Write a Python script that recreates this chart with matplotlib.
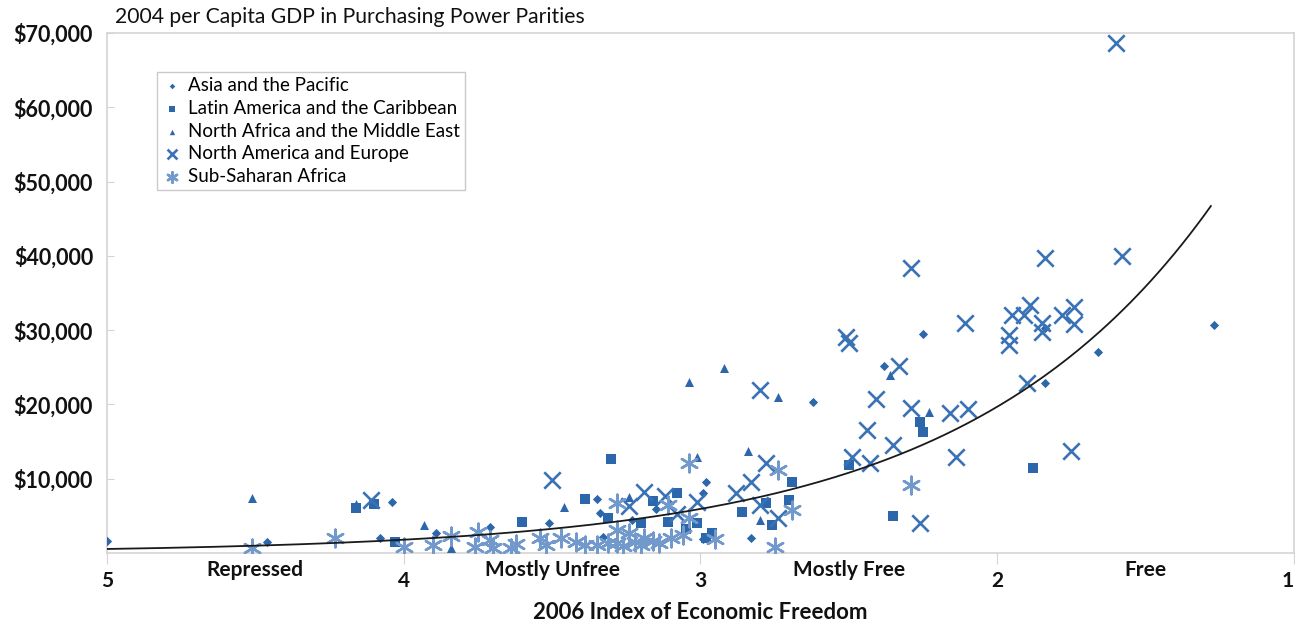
import numpy as np
import matplotlib
matplotlib.use("Agg")
import matplotlib.pyplot as plt
from matplotlib.ticker import FuncFormatter

# 2006 Index of Economic Freedom score (1 = free, 5 = repressed) and
# 2004 per-capita GDP (PPP, US$) by region
asia_idx = [5.00, 4.46, 4.08, 4.04, 3.89, 3.71, 3.51, 3.35, 3.34, 3.33, 3.23, 3.15,
            2.99, 2.98, 2.99, 2.83, 2.62, 2.38, 2.25, 1.84, 1.84, 1.66, 1.27]
asia_gdp = [1600, 1500, 2000, 6900, 2700, 3500, 4000, 7300, 5400, 2150, 4400, 5900,
            8100, 9600, 1900, 2000, 20300, 25200, 29500, 22900, 30300, 27100, 30700]

latam_idx = [4.16, 4.10, 4.03, 3.60, 3.30, 3.39, 3.16, 3.08, 3.11, 3.05, 3.01, 2.96,
             3.31, 3.20, 2.98, 2.86, 2.78, 2.76, 2.70, 2.69, 2.50, 2.35, 2.26, 2.25, 1.88]
latam_gdp = [6100, 6600, 1500, 4200, 12700, 7300, 7000, 8100, 4200, 3200, 4000, 2700,
             4700, 4000, 2000, 5500, 6700, 3800, 7100, 9600, 11800, 5000, 17600, 16300, 11400]

mena_idx = [4.51, 4.16, 3.93, 3.84, 3.46, 3.24, 3.04, 2.92, 2.74, 3.01, 2.84, 2.80,
            2.36, 2.23]
mena_gdp = [7400, 6600, 3800, 700, 6200, 7500, 23000, 24900, 21000, 12900, 13700, 4400,
            24000, 19000]

europe_idx = [4.11, 3.50, 3.19, 3.24, 3.12, 3.01, 2.88, 2.83, 2.78, 2.80, 2.80, 2.74,
              2.51, 2.50, 2.41, 2.44, 2.49, 2.43, 2.35, 2.29, 2.33, 2.29, 2.16, 2.10,
              2.11, 2.14, 2.26, 1.95, 1.89, 1.91, 1.96, 1.96, 1.85, 1.85, 1.78, 1.74,
              1.74, 1.84, 1.58, 1.90, 1.75, 1.60, 3.08]
europe_gdp = [7100, 9800, 8200, 6300, 7700, 6900, 8100, 9600, 12100, 21900, 6500, 4700,
              29100, 28300, 20700, 16500, 12900, 12100, 14500, 38400, 25200, 19500, 18800, 19400,
              31000, 12900, 4000, 32000, 33400, 32000, 29300, 28000, 31000, 29800, 32000, 33100,
              30800, 39700, 40000, 22900, 13700, 68600, 5200]

ssa_idx = [4.51, 4.23, 4.00, 3.90, 3.84, 3.76, 3.75, 3.71, 3.70, 3.64, 3.54, 3.52,
           3.47, 3.42, 3.39, 3.35, 3.28, 3.28, 3.24, 3.20, 3.19, 3.14, 3.10, 3.04,
           3.04, 2.95, 3.11, 2.74, 2.69, 2.75, 3.28, 3.22, 3.16, 3.26, 2.29, 3.62,
           3.31, 3.06]
ssa_gdp = [700, 2000, 800, 1100, 2300, 800, 2800, 1700, 700, 700, 2000, 1100,
           2000, 1500, 1100, 1100, 6700, 1300, 2700, 1100, 2000, 1300, 2000, 12100,
           4700, 1900, 6500, 11200, 5800, 800, 3100, 1500, 1600, 900, 9200, 1200,
           1400, 2400]

# exponential trend line  gdp = c * exp(k * score)
TREND_C = 217000.0
TREND_K = -1.20
TREND_RANGE = (5.0, 1.28)

y_ticks = [10000, 20000, 30000, 40000, 50000, 60000, 70000]
x_ticks = [5, 4, 3, 2, 1]
band_centres = [4.5, 3.5, 2.5, 1.5]
band_labels = ["Repressed", "Mostly Unfree", "Mostly Free", "Free"]

DARK = "#2c67ab"
MID = "#3a72b6"
LIGHT = "#7199cc"
FRAME = "#d4d4d4"
INK = "#111111"

plt.rcParams["font.family"] = ["Lato", "DejaVu Sans"]

fig = plt.figure(figsize=(12.95, 6.23), dpi=100)
ax = fig.add_axes([0.0826, 0.1124, 0.9166, 0.8346])

ax.scatter(asia_idx, asia_gdp, marker="D", s=22, color=DARK, linewidths=0,
           label="Asia and the Pacific", zorder=3)
ax.scatter(latam_idx, latam_gdp, marker="s", s=48, color=DARK, linewidths=0,
           label="Latin America and the Caribbean", zorder=3)
ax.scatter(mena_idx, mena_gdp, marker="^", s=42, color=DARK, linewidths=0,
           label="North Africa and the Middle East", zorder=3)
ax.scatter(europe_idx, europe_gdp, marker="x", s=140, color=MID, linewidths=1.9,
           label="North America and Europe", zorder=3)
ax.scatter(ssa_idx, ssa_gdp, marker=(6, 2, 0), s=160, color=LIGHT, linewidths=1.8,
           label="Sub-Saharan Africa", zorder=3)

tx = np.linspace(TREND_RANGE[0], TREND_RANGE[1], 300)
ax.plot(tx, TREND_C * np.exp(TREND_K * tx), color="#1a1a1a", lw=1.3, zorder=4)

ax.set_xlim(5, 1)
ax.set_ylim(0, 70000)
ax.set_yticks(y_ticks)
ax.yaxis.set_major_formatter(FuncFormatter(lambda v, p: f"${v:,.0f}"))
ax.set_xticks(x_ticks)
ax.set_xticklabels([str(v) for v in x_ticks])

for side in ("left", "right", "top", "bottom"):
    ax.spines[side].set_color(FRAME)
    ax.spines[side].set_linewidth(1.2)

ax.tick_params(axis="y", direction="in", length=5, color=FRAME, pad=10,
               labelsize=15.5, labelcolor=INK)
ax.tick_params(axis="x", direction="out", length=8, color=FRAME, pad=5,
               labelsize=15, labelcolor=INK)
for lab in ax.get_yticklabels() + ax.get_xticklabels():
    lab.set_fontweight("bold")
# the last score label sits on the right edge of the frame
ax.get_xticklabels()[-1].set_horizontalalignment("right")

for c, t in zip(band_centres, band_labels):
    ax.text(c, -0.0135, t, transform=ax.get_xaxis_transform(), ha="center", va="top",
            fontsize=15, fontweight="bold", color=INK)

ax.set_xlabel("2006 Index of Economic Freedom", fontsize=16, fontweight="bold",
              color=INK, labelpad=8)
fig.text(0.089, 0.9725, "2004 per Capita GDP in Purchasing Power Parities",
         fontsize=15.2, color=INK, ha="left", va="center")

leg = ax.legend(loc="upper left", bbox_to_anchor=(0.042, 0.925), borderaxespad=0,
                frameon=True, fancybox=False, edgecolor="#bdbdbd", fontsize=13.5,
                handletextpad=0.3, borderpad=0.28, labelspacing=0.3, markerscale=0.6,
                handlelength=1.1, scatterpoints=1)
leg.get_frame().set_linewidth(1.0)

fig.savefig("out.png", dpi=100, facecolor="white")
